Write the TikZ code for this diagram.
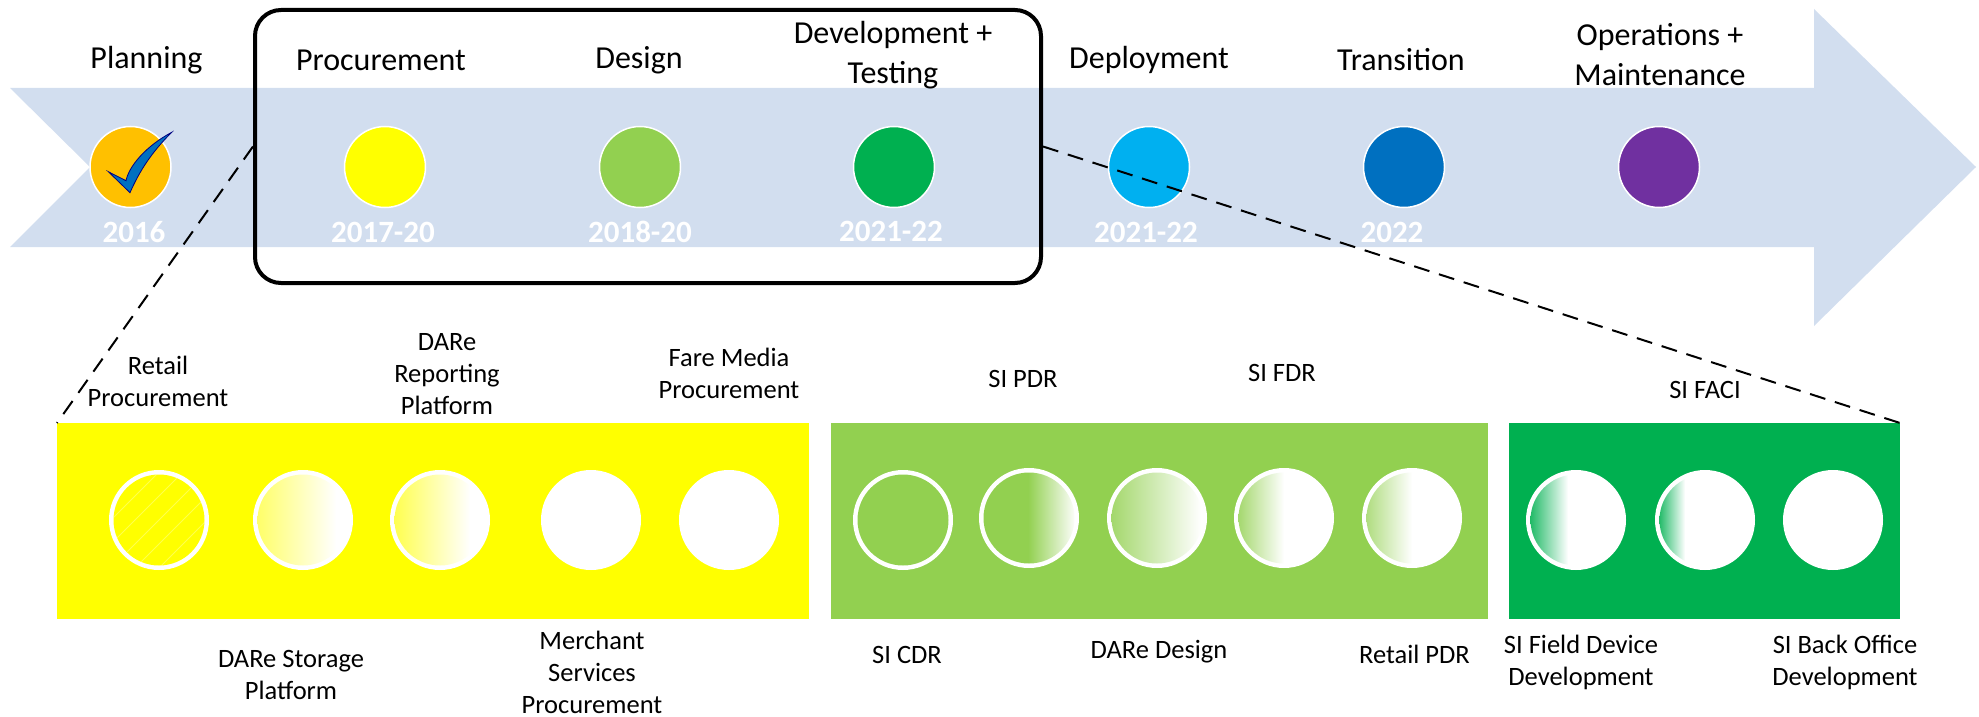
\documentclass[tikz,border=0pt]{standalone}
\usepackage{fontspec}
\setmainfont{Carlito}
\usetikzlibrary{calc}
\definecolor{arrowfill}{HTML}{D2DEEF}
\definecolor{cplan}{HTML}{FFC000}
\definecolor{cproc}{HTML}{FFFF00}
\definecolor{cdes}{HTML}{92D050}
\definecolor{cdev}{HTML}{00B050}
\definecolor{cdep}{HTML}{00B0F0}
\definecolor{ctra}{HTML}{0070C0}
\definecolor{cops}{HTML}{7030A0}
\tikzset{
  x=1pt,y=-1pt,
  phase/.style={circle,draw=white,line width=1.5pt,minimum size=81pt,inner sep=0pt},
  head/.style={font=\fontsize{32}{40}\selectfont,align=center,text=black},
  year/.style={font=\fontsize{31}{34}\selectfont\bfseries,text=white},
  small/.style={font=\fontsize{26.5}{32}\selectfont,align=center,text=black},
  band/.style={inner sep=0pt,outer sep=0pt,anchor=north west},
  ms/.style={circle,fill=white,minimum size=100pt,inner sep=0pt},
  zoomline/.style={draw=black,line width=2pt,dash pattern=on 16pt off 10pt},
}
\newcommand{\grad}[5]{% node, colour, from x, to x, tint
  \begin{scope}
    \clip (#1) circle[radius=45.5pt];
    \fill[#2] ($(#1)+(-60,-60)$) rectangle ($(#1)+(#3,60)$);
    \shade[left color=#2!#5!white,right color=white] ($(#1)+(#3,-60)$) rectangle ($(#1)+(#4,60)$);
  \end{scope}}
\begin{document}
\begin{tikzpicture}
\useasboundingbox (0,0) rectangle (1979,717);
\fill[arrowfill] (10,88) -- (1814,88) -- (1814,9) -- (1976,167) -- (1814,326) -- (1814,247) -- (10,247) -- (90,167) -- cycle;
\node[phase,fill=cplan] (p1) at (130.5,167) {};
\node[phase,fill=cproc] (p2) at (385,167) {};
\node[phase,fill=cdes] (p3) at (640,167) {};
\node[phase,fill=cdev] (p4) at (894,167) {};
\node[phase,fill=cdep] (p5) at (1149,167) {};
\node[phase,fill=ctra] (p6) at (1404,167) {};
\node[phase,fill=cops] (p7) at (1659,167) {};
\fill[ctra,draw=blue!50!black,line width=.8pt] (108.3,171.7) -- (126,180.7)
  .. controls (129,166) and (146,146) .. (171.7,132.3)
  .. controls (152,152) and (140,170) .. (130,192.7)
  -- cycle;
\node[head] (t1) at (146.5,60) {Planning};
\node[head] (t2) at (381,60) {Procurement};
\node[head] (t3) at (639,60) {Design};
\node[head] (t4) at (893,55) {Development +\\Testing};
\node[head] (t5) at (1149,60) {Deployment};
\node[head] (t6) at (1401,60) {Transition};
\node[head] (t7) at (1660,55) {Operations +\\Maintenance};
\node[year] (y1) at (134,232) {2016};
\node[year] (y2) at (383,232) {2017-20};
\node[year] (y3) at (640,232) {2018-20};
\node[year] (y4) at (891,231) {2021-22};
\node[year] (y5) at (1146,232) {2021-22};
\node[year] (y6) at (1392,232) {2022};
\node[draw=black,line width=4pt,rounded corners=26pt,minimum width=786pt,minimum height=273pt,inner sep=0pt] (box) at (648,146.5) {};
\node[band,fill=cproc,minimum width=752pt,minimum height=196pt] (yel) at (57,423) {};
\node[band,fill=cdes,minimum width=657pt,minimum height=196pt] (grn) at (831,423) {};
\node[band,fill=cdev,minimum width=391pt,minimum height=196pt] (dk) at (1509,423) {};
\draw[zoomline] (box.west) -- (yel.north west);
\draw[zoomline] (box.east) -- (dk.north east);
% yellow
\node[ms] (a1) at (159,520) {};
\node[ms] (a2) at (303,520) {};
\node[ms] (a3) at (440,520) {};
\node[ms] (a4) at (591,520) {};
\node[ms] (a5) at (729,520) {};
\begin{scope}
  \clip (a1) circle[radius=45.5pt];
  \fill[cproc] ($(a1)+(-60,-60)$) rectangle ($(a1)+(60,60)$);
  \foreach \d in {-72,-48,-24,0,24,48,72}
    \draw[white,opacity=.3,line width=1pt] ($(a1)+(\d-60,60)$) -- ($(a1)+(\d+60,-60)$);
\end{scope}
\grad{a2}{cproc}{-47}{33}{60}
\grad{a3}{cproc}{-47}{30}{70}
% light green
\node[ms] (b1) at (903,520) {};
\node[ms] (b2) at (1029,518) {};
\node[ms] (b3) at (1157,518) {};
\node[ms] (b4) at (1284,518) {};
\node[ms] (b5) at (1412,518) {};
\fill[cdes] (b1) circle[radius=45.5pt];
\grad{b2}{cdes}{-1}{47}{100}
\grad{b3}{cdes}{-47}{44}{85}
\grad{b4}{cdes}{-47}{0}{85}
\grad{b5}{cdes}{-47}{0}{75}
% dark green
\node[ms] (c1) at (1576,520) {};
\node[ms] (c2) at (1705,520) {};
\node[ms] (c3) at (1833,520) {};
\grad{c1}{cdev}{-47}{-8}{90}
\grad{c2}{cdev}{-47}{-20}{90}
% labels
\node[small] (l1) at (158,381) {Retail\\Procurement};
\node[small] (l2) at (447,374) {DARe\\Reporting\\Platform};
\node[small] (l3) at (729,373) {Fare Media\\Procurement};
\node[small] (l4) at (291,675) {DARe Storage\\Platform};
\node[small] (l5) at (592,672) {Merchant\\Services\\Procurement};
\node[small] (l6) at (907,655) {SI CDR};
\node[small] (l7) at (1159,652) {DARe Design};
\node[small] (l8) at (1414.5,654) {Retail PDR};
\node[small] (l9) at (1023,379) {SI PDR};
\node[small] (l10) at (1282,373) {SI FDR};
\node[small] (l11) at (1705,390) {SI FACI};
\node[small] (l12) at (1581,662) {SI Field Device\\Development};
\node[small] (l13) at (1845,662) {SI Back Office\\Development};
\end{tikzpicture}
\end{document}
